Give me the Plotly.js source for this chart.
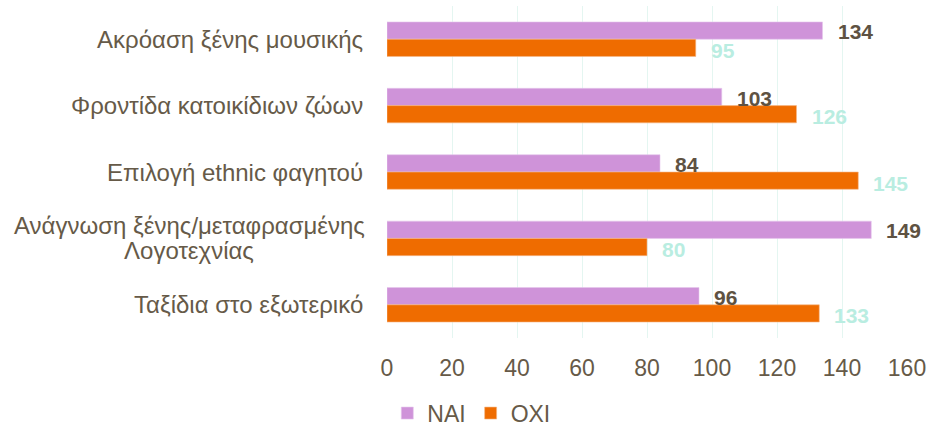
<!DOCTYPE html>
<html>
<head>
<meta charset="utf-8">
<script src="https://cdn.plot.ly/plotly-3.0.1.min.js"></script>
<style>html,body{margin:0;padding:0;background:#fff;}#chart{width:931px;height:429px;}</style>
</head>
<body>
<div id="chart"></div>
<script>
const categories = [
  "Ακρόαση ξένης μουσικής",
  "Φροντίδα κατοικίδιων ζώων",
  "Επιλογή ethnic φαγητού",
  "Ανάγνωση ξένης/μεταφρασμένης<br>Λογοτεχνίας",
  "Ταξίδια στο εξωτερικό"
];
const seriesNames = ["NAI", "OXI"];
const naiValues = [134, 103, 84, 149, 96];
const oxiValues = [95, 126, 145, 80, 133];
const xTicks = [0, 20, 40, 60, 80, 100, 120, 140, 160];

const textColor = "#665a48";
const FONT = "Arial, 'Liberation Sans', sans-serif";

const traces = [
  {type: "bar", orientation: "h", name: seriesNames[0], y: categories, x: naiValues,
   marker: {color: "#cf93d9", line: {color: "#e6c6ec", width: 0.6}}, hoverinfo: "x"},
  {type: "bar", orientation: "h", name: seriesNames[1], y: categories, x: oxiValues,
   marker: {color: "#ef6c00", line: {color: "#f5b88a", width: 0.6}}, hoverinfo: "x"}
];

const annotations = [];
categories.forEach((c, i) => {
  annotations.push({x: naiValues[i], y: c, xref: "x", yref: "y", text: "<b>" + naiValues[i] + "</b>",
    showarrow: false, xanchor: "left", yanchor: "middle", xshift: 13, yshift: 7.5,
    font: {family: FONT, size: 21, color: "#5e5242"}});
  annotations.push({x: oxiValues[i], y: c, xref: "x", yref: "y", text: "<b>" + oxiValues[i] + "</b>",
    showarrow: false, xanchor: "left", yanchor: "middle", xshift: 13, yshift: -11,
    font: {family: FONT, size: 21, color: "#b9ede1"}});
  const lines = c.split("<br>");
  const n = lines.length;
  lines.forEach((ln, k) => {
    const off = (n - 1) / 2 - k;
    annotations.push({x: 0, y: c, xref: "paper", yref: "y", text: ln,
      showarrow: false, xanchor: n > 1 ? "center" : "right", yanchor: "middle",
      xshift: n > 1 ? -198 : -22, yshift: off * 25,
      font: {family: FONT, size: 24, color: textColor}});
  });
});

const layout = {
  width: 931, height: 429,
  margin: {l: 387, r: 24, t: 6, b: 91},
  paper_bgcolor: "#ffffff", plot_bgcolor: "#ffffff",
  barmode: "group", bargap: 0.48, bargroupgap: 0,
  font: {family: FONT, color: textColor},
  xaxis: {range: [0, 160], tickvals: xTicks, ticktext: xTicks.map(String),
    showgrid: true, gridcolor: "#e4f6f1", gridwidth: 1, zeroline: false,
    showline: false, ticks: "", ticklabelstandoff: 14,
    tickfont: {family: FONT, size: 23, color: textColor}, fixedrange: true},
  yaxis: {type: "category", autorange: "reversed", showticklabels: false,
    showgrid: false, zeroline: false, showline: false, ticks: ""},
  showlegend: true,
  legend: {orientation: "h", xref: "container", yref: "container", x: 0.416, y: 0.037,
    xanchor: "left", yanchor: "middle", traceorder: "normal",
    font: {family: FONT, size: 23, color: textColor}, itemwidth: 30},
  annotations: annotations
};

Plotly.newPlot("chart", traces, layout, {staticPlot: true, displayModeBar: false});
</script>
</body>
</html>
